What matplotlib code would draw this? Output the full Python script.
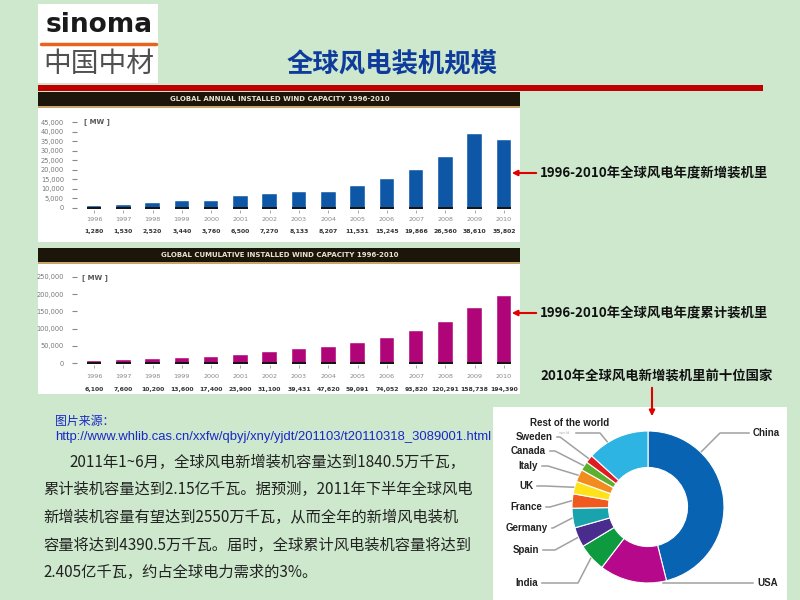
import numpy as np
import matplotlib.pyplot as plt
from matplotlib.patches import Rectangle

plt.rcParams['font.family'] = ['Noto Sans CJK SC', 'DejaVu Sans']

# data
years = list(range(1996, 2011))
annual_mw = [1280, 1530, 2520, 3440, 3760, 6500, 7270, 8133, 8207, 11531,
             15245, 19866, 26560, 38610, 35802]
cumulative_mw = [6100, 7600, 10200, 13600, 17400, 23900, 31100, 39431, 47620,
                 59091, 74052, 93820, 120291, 158738, 194390]
countries = ['China', 'USA', 'India', 'Spain', 'Germany', 'France', 'UK',
             'Italy', 'Canada', 'Sweden', 'Rest of the world']
new_2010_mw = [16500, 5115, 2139, 1516, 1493, 1086, 962, 948, 690, 604, 4749]
country_colors = ['#0863b3', '#b5088a', '#0e9a3e', '#4a2c8e', '#18a3ad',
                  '#f05a1e', '#ffe21a', '#f28c1e', '#5cb030', '#e11b22',
                  '#2eb4e3']

body_lines = [
    '2011年1~6月，全球风电新增装机容量达到1840.5万千瓦，',
    '累计装机容量达到2.15亿千瓦。据预测，2011年下半年全球风电',
    '新增装机容量有望达到2550万千瓦，从而全年的新增风电装机',
    '容量将达到4390.5万千瓦。届时，全球累计风电装机容量将达到',
    '2.405亿千瓦，约占全球电力需求的3%。',
]
url = 'http://www.whlib.cas.cn/xxfw/qbyj/xny/yjdt/201103/t20110318_3089001.html'

W, H = 800, 600
fig = plt.figure(figsize=(8, 6), dpi=100)
fig.patch.set_facecolor('#cde8cd')


def px_axes(l, t, r, b):
    ax = fig.add_axes([l / W, 1 - b / H, (r - l) / W, (b - t) / H])
    ax.set_facecolor('none')
    return ax


# background layer in pixel coordinates
bg = px_axes(0, 0, W, H)
bg.set_xlim(0, W)
bg.set_ylim(H, 0)
bg.axis('off')

# logo
bg.add_patch(Rectangle((38, 4), 120, 79, fc='white', ec='none'))
bg.text(99, 25, 'sinoma', fontsize=19, fontweight='bold', family='DejaVu Sans',
        color='#1a1a1a', ha='center', va='center')
bg.plot([41, 156], [44, 44], color='#e8641e', lw=2.5, solid_capstyle='round')
bg.text(99, 64, '中国中材', fontsize=20, color='#505050', ha='center', va='center')

# title + red rule
bg.text(392, 65, '全球风电装机规模', fontsize=19, fontweight='bold',
        color='#0f3c9c', ha='center', va='center')
bg.add_patch(Rectangle((38, 85), 725, 6, fc='#c00000', ec='none'))

# bar chart panels
for top, title in [(92, 'GLOBAL ANNUAL INSTALLED WIND CAPACITY 1996-2010'),
                   (248, 'GLOBAL CUMULATIVE INSTALLED WIND CAPACITY 1996-2010')]:
    bg.add_patch(Rectangle((38, top), 482, 150 if top == 92 else 146, fc='white', ec='none'))
    bg.add_patch(Rectangle((38, top), 482, 14, fc='#1c160a', ec='none'))
    bg.add_patch(Rectangle((38, top + 14), 482, 1.5, fc='#c9a56a', ec='none'))
    bg.text(280, top + 7, title, fontsize=5, fontweight='bold', family='DejaVu Sans',
            color='#e8e2d2', ha='center', va='center')
bg.text(84, 122, '[ MW ]', fontsize=5, fontweight='bold', family='DejaVu Sans',
        color='#555555', va='center')
bg.text(82, 278, '[ MW ]', fontsize=5, fontweight='bold', family='DejaVu Sans',
        color='#555555', va='center')

# text block on the left
bg.text(55, 421, '图片来源：', fontsize=8.6, color='#1a28c8', va='center')
bg.text(55, 437, url, fontsize=9.4, family='Liberation Sans', color='#1a28c8',
        va='center', zorder=3)
for i, line in enumerate(body_lines):
    bg.text(69 if i == 0 else 43, 462 + 27.7 * i, line, fontsize=11,
            color='#222222', va='center')

# pie panel
bg.add_patch(Rectangle((493, 407), 294, 193, fc='white', ec='none', zorder=4))


def bar_chart(rect, zero_px, scale, values, color, ticks, year_y, value_y):
    l, t, r, b = rect
    ax = px_axes(l, t, r, b)
    x = np.arange(len(values))
    ax.set_xlim(-0.58, 14.58)
    ax.set_ylim(-(b - zero_px) * scale, (zero_px - t) * scale)
    ax.bar(x, values, width=0.5, color=color, edgecolor='white', linewidth=0.3)
    ax.bar(x, 2 * scale, bottom=-0.5 * scale, width=0.5, color='#151515')
    ax.vlines(x, -1.5 * scale, -5 * scale, color='#999999', lw=0.6)
    for s in ax.spines.values():
        s.set_visible(False)
    ax.set_xticks([])
    ax.set_yticks(ticks)
    ax.set_yticklabels([f'{v:,}' for v in ticks], family='DejaVu Sans')
    ax.tick_params(axis='y', length=3.6, width=0.8, color='#888888', pad=5.8,
                   labelsize=4.8, labelcolor='#777777')
    tr = ax.get_xaxis_transform()
    for i, (yr, v) in enumerate(zip(years, values)):
        ax.text(i, year_y, str(yr), transform=tr, fontsize=4.6, family='DejaVu Sans',
                color='#888888', ha='center', va='center')
        ax.text(i, value_y, f'{v:,}', transform=tr, fontsize=4.4, family='DejaVu Sans',
                fontweight='bold', color='#333333', ha='center', va='center')
    return ax


bar_chart((77, 108, 521, 240), 208, 45000 / 86, annual_mw, '#0d57a6',
          list(range(0, 45001, 5000)), 0.159, 0.061)
bar_chart((77, 264, 521, 394), 363, 250000 / 86, cumulative_mw, '#b00479',
          list(range(0, 250001, 50000)), 0.138, 0.038)

# donut chart
cx, cy, R = 648, 507, 76
axp = px_axes(cx - R, cy - R, cx + R, cy + R)
axp.pie(new_2010_mw, colors=country_colors, startangle=90, counterclock=False,
        radius=1, wedgeprops=dict(width=0.48, edgecolor='white', linewidth=0.8))
axp.set_xlim(-1, 1)
axp.set_ylim(-1, 1)
axp.set_aspect('equal')

# overlay: leader lines, arrows, notes
top = px_axes(0, 0, W, H)
top.set_xlim(0, W)
top.set_ylim(H, 0)
top.axis('off')

edges = 90 - 360 * np.cumsum([0] + new_2010_mw) / sum(new_2010_mw)
anchor_frac = [0.265, 0.06, 0.5, 0.5, 0.5, 0.5, 0.5, 0.5, 0.5, 0.5, 0.33]
# (label x, label y, alignment, elbow x)
label_pos = [(753, 433, 'left', 720), (757, 582, 'left', None),
             (538, 583, 'right', 578), (539, 550, 'right', 555),
             (548, 528, 'right', 553), (542, 507, 'right', 550),
             (533, 486, 'right', 545), (538, 466, 'right', 548),
             (546, 451, 'right', 555), (553, 437, 'right', 560),
             (570, 423, 'center', 600)]
lab_font = dict(fontsize=7, fontweight='bold', family='Liberation Sans',
                color='#222222', va='center', zorder=6)
for i, name in enumerate(countries):
    th = np.radians(edges[i] + (edges[i + 1] - edges[i]) * anchor_frac[i])
    sx, sy = cx + (R + 1) * np.cos(th), cy - (R + 1) * np.sin(th)
    lx, ly, ha, ex = label_pos[i]
    if ha == 'left':
        xs = [sx, ex, lx - 4] if ex else [sx, lx - 4]
        ys = [sy, ly, ly] if ex else [sy, sy]
        top.text(lx, ly if ex else sy, name, ha='left', **lab_font)
    elif ha == 'right':
        xs, ys = [sx, ex, lx + 4], [sy, ly, ly]
        top.text(lx, ly, name, ha='right', **lab_font)
    else:
        xs, ys = [sx, ex, 576], [sy, 433, 433]
        top.text(lx, ly, name, ha='center', **lab_font)
        top.text(565, 433, 'world', fontsize=3, color='#bbbbbb', ha='center',
                 va='center', family='DejaVu Sans', zorder=6)
    top.plot(xs, ys, color='#a0a0a0', lw=1.1, zorder=5)

note_font = dict(fontsize=9.6, fontweight='bold', color='#111111', va='center')
arrow = dict(arrowstyle='-|>', color='#e00000', lw=1.5, mutation_scale=8)
top.text(540, 173, '1996-2010年全球风电年度新增装机里', **note_font)
top.annotate('', xy=(509, 173), xytext=(539, 173), arrowprops=arrow)
top.text(540, 313, '1996-2010年全球风电年度累计装机里', **note_font)
top.annotate('', xy=(509, 313), xytext=(539, 313), arrowprops=arrow)
top.text(540, 376, '2010年全球风电新增装机里前十位国家', **note_font)
top.annotate('', xy=(652, 419), xytext=(652, 385), arrowprops=arrow)

fig.savefig('out.png', dpi=100, facecolor=fig.get_facecolor())
